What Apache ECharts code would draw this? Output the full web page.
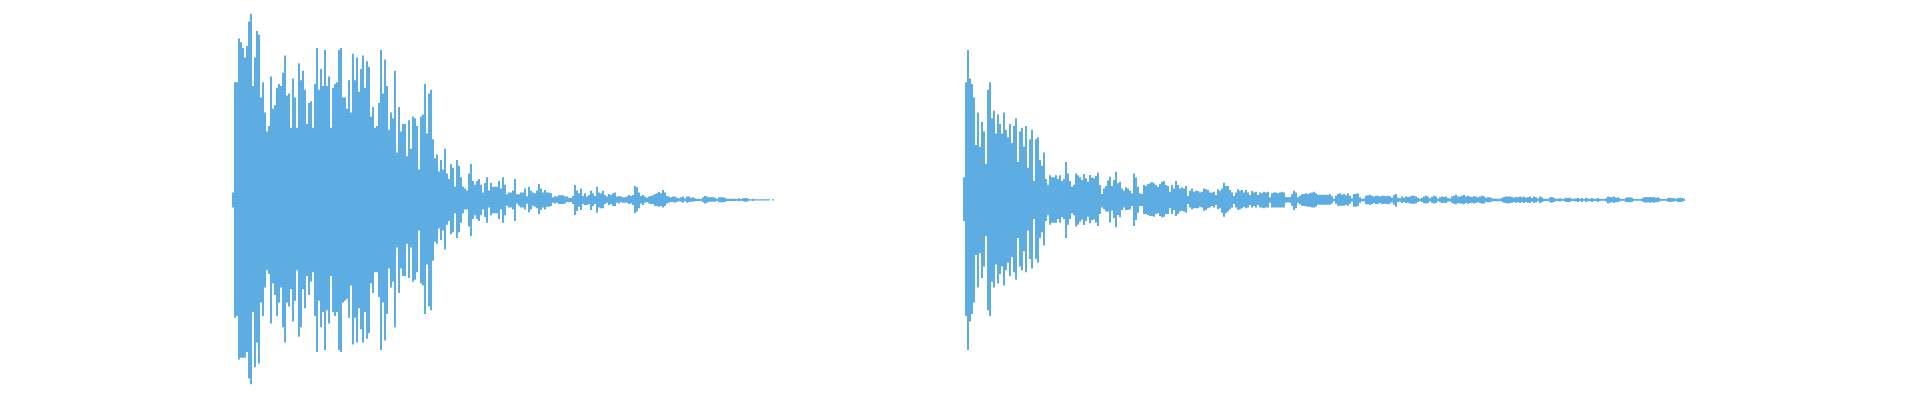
<!DOCTYPE html>
<html>
<head>
<meta charset="utf-8">
<script src="https://cdn.jsdelivr.net/npm/echarts@6/dist/echarts.min.js"></script>
<style>
html,body{margin:0;padding:0;background:#fff;}
#chart{width:1920px;height:400px;}
</style>
</head>
<body>
<div id="chart"></div>
<script>
// Amplitude envelopes (percent of full scale), one value per time bin.
var wave1Upper = [4,62,62,85,83,80,75,81,94,98,60,75,89,87,54,62,46,36,39,65,48,50,59,61,60,67,76,55,56,38,64,54,38,72,63,68,58,40,51,52,38,61,80,58,69,60,79,60,
65,38,59,61,62,79,80,54,54,48,63,46,77,63,75,57,69,76,59,73,70,44,49,38,39,51,79,56,74,60,37,46,43,68,25,49,36,40,40,23,42,27,44,43,39,16,44,45,61,35,
56,58,32,22,24,15,21,16,27,14,11,19,17,7,21,18,12,7,6,5,14,19,10,8,10,11,8,4,9,12,5,9,7,7,7,10,6,12,8,3,4,4,5,11,3,3,4,4,6,2,
7,5,4,3.5,5,8.4,6,4,5.3,4,3.9,3.5,1.5,2,1.8,2.5,2.5,2.5,1.8,1.8,1.2,1,2.1,7.9,5,3.5,6.1,2.1,3.5,1.8,2.6,4.9,3.5,2.1,7,3.9,3.5,4.9,2.6,1.8,3.2,2.6,3.5,3.9,1.8,2.1,1.8,1.4,1.4,1.8,2.6,2.1,2.6,
7.4,6.7,3.9,2.1,2.6,1.8,1.2,1.8,2.1,2.5,3.2,3.5,4.2,3.5,5.3,4,2.1,1.8,1.4,1.8,1.8,1.2,0.9,1.4,1.8,0.9,1.8,1.8,1.2,1.4,0.9,0.6,0.6,0.5,1.5,2.1,1.8,1.4,1.4,1.4,1.2,0.6,1.4,1.4,1.4,1.2,
0.6,0.6,0.6,0.6,0.6,0.5,0.9,0.5,0.9,1,1,0.5,0.4,0.7,0.4,0.4,0.4,0.4,0.4,0.4,0.4,0.4,0,0.4];
var wave1Lower = [-4,-62,-61,-84,-83,-83,-83,-80,-94,-97,-59,-88,-75,-86,-54,-61,-46,-37,-39,-65,-44,-50,-61,-54,-46,-67,-75,-54,-56,-47,-64,-53,-37,-72,-67,-47,-57,-40,-50,-43,-38,-61,-80,-53,-67,-59,-79,-58,
-65,-40,-59,-61,-59,-79,-80,-54,-53,-52,-62,-45,-76,-62,-75,-57,-68,-75,-59,-73,-70,-44,-49,-38,-38,-51,-79,-54,-74,-60,-36,-46,-43,-67,-25,-49,-36,-40,-40,-23,-41,-25,-43,-42,-38,-16,-44,-45,-60,-34,
-56,-58,-32,-22,-23,-15,-21,-16,-26,-13,-11,-18,-17,-7,-20,-17,-12,-7,-5,-5,-14,-19,-10,-8,-10,-11,-8,-5,-9,-12,-4,-8,-7,-7,-7,-10,-5,-12,-8,-3,-4,-4,-5,-11,-2,-3,-4,-4,-5,-2,
-6.5,-5,-3,-3.5,-4.4,-7.5,-5.3,-4,-5,-3.5,-3.5,-3.2,-1.5,-1.8,-1.4,-2.1,-2.1,-2.1,-1.8,-1.1,-1.2,-1,-2.1,-7.9,-5.8,-3.5,-5.3,-2.1,-2.6,-2.6,-2.1,-5.3,-3.2,-2.1,-6.7,-3.9,-4.4,-4.4,-2.1,-1.4,-2.6,-2.1,-3.2,-3.2,-1.4,-1.8,-1,-1.4,-1.4,-1.4,-2.1,-1.8,-2.6,
-7,-6.1,-4.4,-1.8,-2.6,-1.4,-1.1,-1.8,-2.1,-2.1,-3.2,-3.2,-3.5,-3.2,-3.9,-3.2,-1.8,-1.4,-1,-1,-1.4,-0.9,-0.7,-0.9,-1.4,-0.7,-1.4,-1,-0.9,-0.9,-0.7,-0.5,-0.5,-0.5,-1.2,-1.8,-1.4,-0.9,-0.9,-0.9,-0.9,-0.5,-1.2,-1.2,-1.2,-1,
-0.5,-0.5,-0.5,-0.5,-0.5,-0.4,-0.6,-0.4,-0.7,-0.9,-0.9,-0.4,-0.3,-0.5,-0.3,-0.3,-0.3,-0.3,-0.3,-0.3,-0.3,-0.3,0,-0.3];
var wave2Upper = [12,62,79,64,61,54,29,46,28,41,36,19,58,62,43,47,35,45,40,35,46,37,33,40,30,39,43,20,36,38,28,39,17,32,37,10,32,33,21,18,25,11,8,13,12,12,13,11,13,10,11,20,14,10,7,8,14,13,
12,10.5,13.7,11.4,9.6,13.2,11.9,11.4,12.6,14.4,7.9,3.2,6.1,7.4,10.2,12.3,7.4,10.5,14.9,8.8,9.6,6.1,4.9,6.7,6.1,4.9,3.5,14,11.9,7,3.5,3.2,7.9,7.4,8.4,8.8,9.6,8.8,7.9,7,8.4,9.6,10,7.9,7.4,4.4,7.9,6.1,10,7.9,6.1,6.7,6.1,7.4,
2.1,4.9,6.1,4.4,4.9,4.7,3.9,4.4,6.1,5.6,5.3,3.9,3.9,4.4,2.6,5.6,4.9,6.1,9.1,7.4,7.4,5.3,3.9,2.1,3.9,5.6,4.9,5.3,3.9,5.3,3.9,2.6,4.9,3.9,4.4,2.6,
3.9,3.5,4.4,3.9,4.4,1.4,3.5,3.9,4,3.5,4,4.4,3.9,1.6,1.4,1.6,3,4.9,3.9,1.4,2.3,3,3.2,3.5,3.2,3.5,4,4.4,3.5,2.8,2.8,2.8,2.8,2.8,2.8,3,2,0.7,2.3,3.2,3.5,2.8,3.2,2.5,3.5,2.3,0.9,3.2,3.2,3.5,1.5,0.7,0.8,
2.3,2.5,2.8,2.3,1.8,2.3,2.3,1.8,2.3,2.3,2,2.3,2,1.2,2.5,3.2,1.2,0.9,1.8,1.2,1.8,1.6,1.9,2.3,2.3,1.9,1.2,0.7,1.2,1.8,2.3,1.8,0.9,1.6,2.3,1.8,0.8,1.4,1.8,1.6,1.8,1,0.8,1.8,2.3,2.8,1.8,1.8,2.3,2.6,
1.8,2.3,1.8,1.6,2,1.8,1.4,1.8,2.3,2,1.2,1.4,1.4,0.9,0.7,0.8,0.7,0.6,1,1.6,1.8,1.9,1.8,1.6,1.2,1.6,1.4,1.8,1.4,1.8,1.2,1.6,1.8,1,1.8,1.4,0.8,1.8,1.4,0.7,0.6,0.6,1.4,1.6,1.2,0.6,0.6,0.9,0.5,0.6,
1.2,1.1,1.2,0.6,0.6,0.9,1.1,0.6,1.1,0.5,1.2,0.8,0.6,1.1,0.6,0.6,1.1,0.6,0.5,0.5,0.9,1.9,1.6,1.4,1.8,1.2,1.4,0.8,0.5,0.5,1.2,1.4,1.4,1.2,0.5,0.5,0.5,0.5,0.8,1.4,1.6,1.4,1.6,1.4,1.6,1.2,1.4,0.8,0.5,0.5,
0.5,1,1.2,1,0.9,0.6,1.1,1.2,1,0.6];
var wave2Lower = [-11,-61,-79,-64,-60,-54,-29,-46,-28,-41,-35,-19,-58,-61,-43,-46,-34,-44,-39,-35,-45,-37,-33,-40,-30,-38,-42,-20,-35,-37,-27,-38,-16,-31,-36,-10,-31,-33,-20,-17,-24,-11,-8,-13,-12,-12,-12,-10,-12,-9,-10,-20,-13,-10,-7,-8,-14,-13,
-11.4,-10.2,-13.2,-11,-8.8,-12.3,-10.5,-10.2,-11.9,-13.7,-7.4,-3.9,-4.9,-6.1,-6.1,-11.9,-5.6,-9.6,-14.4,-7.9,-9.1,-5.3,-3.9,-5.3,-5.3,-4.9,-3.2,-13.7,-10.5,-6.7,-3.2,-3.2,-7.4,-7.4,-7.9,-8.4,-8.4,-8.8,-7.4,-7,-8.4,-9.1,-8.8,-7.4,-7.4,-4.4,-7.4,-5.3,-8.4,-7.4,-6.1,-5.6,-6.1,-6.7,
-2.1,-3.9,-4.9,-4.4,-4.4,-4.4,-3.5,-3.9,-5.6,-5.3,-4.4,-3.9,-3.2,-3.9,-2.6,-4.9,-4.4,-6.7,-8.8,-7,-6.1,-4.9,-3.9,-2.1,-3.9,-5.3,-4.9,-4.4,-3.5,-4.4,-3.9,-2.6,-3.9,-3.2,-3.9,-2.6,
-4,-3.9,-4.4,-4,-4,-1.4,-3.9,-4,-4,-3.9,-4,-4,-4,-1.4,-1.2,-1.4,-3,-5.3,-4.4,-1.4,-2.3,-3,-3.2,-3.3,-3.5,-3.5,-3.9,-4,-3.5,-2.5,-2.5,-2.5,-2.5,-2.5,-2.5,-2.5,-1.8,-0.7,-2,-3,-3,-3,-3,-2.5,-3,-2,-0.8,-3.5,-3.5,-3.2,-1.5,-0.7,-0.7,
-2.3,-2.3,-2.5,-2.3,-1.6,-2.3,-2,-1.6,-2.3,-2,-2,-2.3,-1.8,-1.2,-2.5,-3.5,-1,-0.8,-1.6,-1,-1.6,-1.4,-1.8,-2,-2,-1.8,-1,-0.6,-1,-1.6,-1.8,-1.6,-0.8,-1.4,-1.8,-1.6,-0.7,-1.2,-1.6,-1.4,-1.6,-0.9,-0.7,-1.6,-2,-2.3,-1.6,-1.8,-2,-2.3,
-1.6,-2,-1.6,-1.4,-1.8,-1.6,-1.2,-1.6,-2,-1.8,-1,-1.2,-1.2,-0.8,-0.6,-0.7,-0.6,-0.5,-0.9,-1.4,-1.6,-1.8,-1.6,-1.4,-1,-1.4,-1.2,-1.6,-1.2,-1.6,-1,-1.4,-1.6,-0.9,-1.6,-1.2,-0.7,-1.6,-1.2,-0.6,-0.5,-0.5,-1.2,-1.4,-1,-0.5,-0.5,-0.8,-0.4,-0.5,
-1,-1,-1,-0.5,-0.5,-0.8,-1,-0.5,-1,-0.4,-1,-0.7,-0.5,-1,-0.5,-0.5,-1,-0.5,-0.4,-0.4,-0.8,-1.8,-1.4,-1.2,-1.6,-1,-1.2,-0.7,-0.4,-0.4,-1,-1.2,-1.2,-1,-0.4,-0.4,-0.4,-0.4,-0.7,-1.2,-1.4,-1.2,-1.4,-1.2,-1.4,-1,-1.2,-0.7,-0.4,-0.4,
-0.4,-0.9,-1,-0.9,-0.8,-0.5,-1,-1,-0.9,-0.5];
var binCount = 361;
var bins = [];
for (var i = 0; i < binCount; i++) bins.push(String(i));

var color = '#5DADE2';
var chart = echarts.init(document.getElementById('chart'), null, {renderer: 'canvas'});
function barSeries(data, idx) {
  return {
    type: 'bar', xAxisIndex: idx, yAxisIndex: idx, data: data,
    barGap: '-100%', barCategoryGap: '0%',
    itemStyle: {color: color}, silent: true, animation: false
  };
}
chart.setOption({
  animation: false,
  backgroundColor: '#ffffff',
  grid: [
    {left: 232, top: 10, width: 722, height: 380},
    {left: 963, top: 10, width: 722, height: 380}
  ],
  xAxis: [
    {type: 'category', gridIndex: 0, data: bins, show: false, boundaryGap: true},
    {type: 'category', gridIndex: 1, data: bins, show: false, boundaryGap: true}
  ],
  yAxis: [
    {type: 'value', gridIndex: 0, min: -100, max: 100, show: false},
    {type: 'value', gridIndex: 1, min: -100, max: 100, show: false}
  ],
  series: [
    barSeries(wave1Upper, 0), barSeries(wave1Lower, 0),
    barSeries(wave2Upper, 1), barSeries(wave2Lower, 1)
  ]
});
</script>
</body>
</html>
